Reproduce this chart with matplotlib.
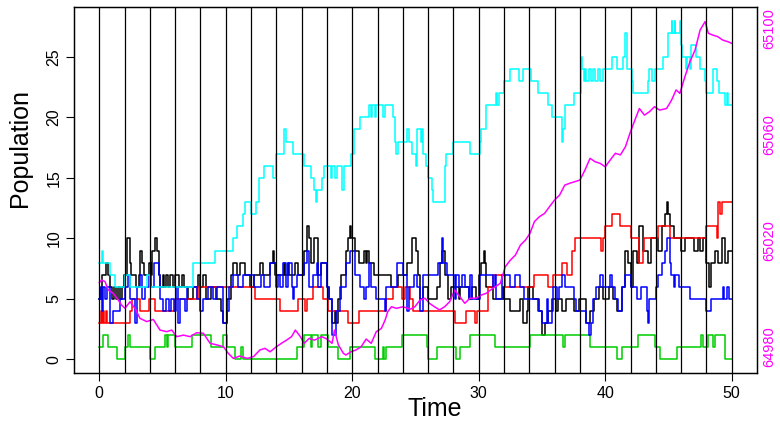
import matplotlib
matplotlib.use('Agg')
import matplotlib.pyplot as plt

plt.rcParams['font.family'] = ['Liberation Sans', 'DejaVu Sans']

# step series: (time, population) change points
black = [(0,5),(0.15,6),(0.2,7),(0.5,8),(0.7,7),(0.85,6),(1.0,5),(1.15,6),(1.3,5),(1.5,6),(1.65,5),
         (1.8,6),(1.95,7),(2.2,10),(2.4,8),(2.5,7),(2.9,6),(3.15,7),(3.2,9),(3.35,8),(3.5,7),(3.9,8),
         (4.1,7),(4.2,9),(4.4,10),(4.6,9),(4.7,7),(4.8,6),(5.0,7),(5.1,6),(5.3,7),(5.45,6),(5.6,7),
         (5.8,6),(6.0,7),(6.3,6),(6.5,7),(6.7,6),(7.0,5),(7.4,6),(7.8,7),(8.0,6),(8.2,7),(8.4,5),
         (8.8,6),(9.2,5),(9.6,4),(9.8,3),(10.1,5),(10.4,7),(10.6,8),(10.9,7),(11.1,8),(11.5,7),
         (11.9,6),(12.2,7),(12.7,8),(12.95,7),(13.5,8),(13.7,9),(13.8,8),(13.9,7),(14.6,8),(14.7,7),
         (14.9,8),(15.0,7),(15.5,8),(15.7,7),(16.2,9),(16.4,11),(16.6,10),(16.75,8),(17.0,10),(17.3,7),
         (17.5,8),(18.0,6),(18.2,5),(18.4,3),(18.6,4),(18.75,3),(18.9,5),(19.1,7),(19.5,9),(19.65,10),
         (19.8,11),(19.9,10),(20.2,9),(20.5,8),(20.9,9),(21.1,8),(21.2,9),(21.3,8),(21.7,7),(23.1,6),
         (23.6,7),(24.3,8),(24.7,10),(25.0,9),(25.2,7),(25.35,5),(25.6,6),(26.0,5),(26.7,6),(26.9,8),
         (27.1,9),(27.3,7),(27.6,5),(27.8,6),(28.1,6),(28.4,5),(28.5,6),(29.2,5),(29.5,6),(29.8,5),
         (30.0,7),(30.2,8),(30.4,9),(30.5,8),(30.6,6),(31.1,5),(31.9,6),(32.0,5),(32.5,4),(33.3,5),
         (33.5,3),(33.8,4),(33.9,6),(34.3,5),(34.8,4),(35.0,2),(35.2,3),(35.5,4),(35.8,5),(36.1,4),
         (36.3,5),(36.6,4),(36.9,5),(37.5,4),(37.9,5),(38.3,5),(38.5,3),(38.8,4),(39.1,5),(39.5,6),
         (39.8,5),(40.3,6),(40.6,5),(40.9,4),(41.3,6),(41.6,9),(41.8,8),(42.0,6),(42.2,9),(42.5,8),
         (42.7,11),(43.0,9),(43.4,8),(43.6,10),(43.9,10),(44.2,9),(44.5,11),(44.7,12),(44.85,13),
         (44.95,12),(45.1,11),(45.4,10),(46.0,9),(46.3,10),(46.7,10),(47.0,9),(47.3,10),(47.5,9),
         (47.7,10),(48.0,8),(48.2,6),(48.4,8),(48.7,9),(48.9,8),(49.2,10),(49.5,8),(49.7,9)]

blue = [(0,5),(0.1,6),(0.2,4),(0.3,6),(0.45,5),(0.6,6),(0.85,3),(1.1,4),(1.6,5),(2.0,6),(2.3,7),
        (2.4,5),(2.8,3),(2.95,6),(3.2,7),(3.35,5),(3.6,6),(3.9,7),(4.1,6),(4.3,8),(4.7,7),(4.8,5),
        (5.0,4),(5.3,5),(5.5,4),(5.7,5),(5.9,4),(6.1,6),(6.25,3),(6.4,5),(6.8,4),(6.9,6),(7.7,5),
        (8.0,4),(8.2,5),(8.6,6),(9.0,5),(9.3,6),(9.8,3),(10.1,4),(10.25,6),(10.6,7),(11.0,6),(11.4,7),
        (12.2,6),(12.8,7),(13.0,6),(13.5,8),(14.0,6),(14.1,7),(14.25,6),(14.5,8),(14.8,6),(14.9,8),
        (15.2,6),(15.3,5),(15.4,6),(15.6,7),(16.2,8),(16.4,9),(16.6,6),(16.9,7),(17.2,8),(17.3,6),
        (17.5,8),(18.0,6),(18.2,5),(18.4,2),(18.75,4),(19.0,6),(19.5,8),(19.8,9),(20.2,7),(20.6,6),
        (20.9,5),(21.1,6),(21.3,8),(21.5,6),(21.9,5),(22.6,4),(22.7,6),(23.5,8),(24.0,7),(24.3,4),
        (24.5,6),(24.9,7),(25.1,6),(25.35,4),(25.6,7),(26.8,8),(27.1,10),(27.2,8),(27.5,7),(28.1,5),
        (28.2,7),(28.4,6),(28.7,7),(28.9,6),(29.2,5),(29.3,7),(29.5,5),(30.1,7),(31.1,6),(31.3,7),
        (31.4,5),(31.8,7),(32.5,6),(32.9,7),(33.3,6),(33.6,5),(34.7,4),(35.0,3),(35.4,5),(35.5,3),
        (35.8,4),(35.9,6),(36.2,5),(36.35,6),(36.55,7),(36.8,6),(37.5,5),(37.7,4),(38.5,3),(38.7,2),
        (38.9,3),(39.0,5),(39.3,6),(39.6,7),(39.85,6),(40.4,7),(40.5,6),(40.8,5),(41.0,4),(41.3,6),
        (41.6,7),(42.0,6),(42.5,5),(42.8,6),(43.3,4),(43.4,3),(43.5,5),(44.0,6),(44.2,7),(44.5,8),
        (44.7,9),(44.9,10),(45.1,8),(45.2,7),(45.4,6),(45.5,7),(45.8,6),(46.7,5),(48.0,4),(48.4,5),
        (49.3,6),(49.4,5),(49.6,6),(49.75,5)]

red = [(0,3),(0.1,4),(0.2,3),(0.3,4),(0.4,3),(0.5,4),(0.6,3),(2.4,4),(2.55,5),(3.2,4),(3.9,5),
       (4.4,4),(6.0,5),(7.7,6),(7.85,5),(8.0,6),(12.3,5),(14.3,4),(15.7,5),(16.25,4),(16.4,5),
       (16.9,6),(17.7,5),(18.1,4),(19.7,3),(20.5,4),(22.7,5),(23.2,6),(23.9,5),(24.2,6),(24.6,5),
       (24.8,4),(28.1,3),(29.0,4),(29.7,3),(29.9,4),(30.75,6),(31.15,7),(32.1,6),(34.4,7),(35.5,6),
       (35.9,7),(36.55,8),(36.95,7),(37.35,9),(37.6,10),(39.7,9),(39.85,10),(40.0,11),(40.5,12),
       (41.2,11),(42.0,10),(42.7,8),(42.95,9),(43.1,10),(44.2,11),(45.1,10),(48.0,11),(48.8,10),
       (48.9,13),(49.1,12),(49.2,13)]

green = [(0,1),(0.3,2),(0.7,1),(1.4,0),(2.0,1),(2.3,2),(2.45,1),(4.0,0),(4.4,1),(5.2,2),(5.35,1),
         (5.4,2),(6.0,1),(7.3,2),(8.8,1),(9.8,2),(10.1,1),(10.7,0),(11.2,1),(11.4,0),(15.6,1),
         (16.2,2),(16.7,1),(16.8,2),(17.3,1),(17.5,2),(18.1,1),(18.9,0),(19.8,1),(21.8,0),(22.4,1),
         (22.5,0),(22.7,1),(23.9,2),(25.9,1),(26.0,0),(26.7,1),(28.2,0),(28.5,1),(29.3,2),(31.3,1),
         (34.05,2),(36.65,1),(36.8,2),(38.8,1),(40.9,0),(41.3,1),(42.6,2),(43.9,1),(44.3,0),(45.7,1),
         (47.6,2),(47.75,1),(48.1,2),(48.5,1),(48.7,2),(49.5,0)]

cyan = [(0,8),(0.2,9),(0.3,8),(0.85,7),(1.25,6),(2.0,7),(2.4,6),(3.8,7),(4.0,6),(7.4,8),(9.15,9),
        (10.6,10),(10.9,11),(11.4,12),(11.55,13),(12.0,12),(12.4,13),(12.6,15),(13.0,16),(13.7,15),
        (14.0,17),(14.6,19),(14.8,18),(15.3,17),(16.2,16),(16.7,15),(17.0,14),(17.1,13),(17.2,14),
        (17.6,15),(17.8,16),(18.3,15),(18.4,16),(18.6,15),(18.8,16),(19.2,14),(19.35,16),(19.9,17),
        (20.1,19),(20.6,20),(21.3,21),(21.5,20),(21.6,21),(21.8,20),(21.9,21),(22.4,20),(22.6,21),
        (23.2,20),(23.4,18),(23.45,17),(23.6,18),(24.3,19),(24.5,18),(24.7,17),(25.0,16),(25.1,19),
        (25.4,18),(25.5,19),(25.6,17),(25.8,16),(26.0,15),(26.3,14),(26.4,13),(27.3,16),(27.4,17),
        (28.0,18),(29.3,17),(30.1,18),(30.2,19),(30.6,21),(31.4,22),(31.45,21),(31.6,22),(32.0,23),
        (32.5,24),(33.2,23),(33.5,24),(34.1,23),(34.7,22),(35.5,21),(35.8,20),(36.55,19),(36.6,18),
        (36.7,19),(36.8,21),(37.5,22),(38.1,25),(38.2,24),(38.3,23),(38.4,24),(38.5,23),(38.7,24),
        (38.9,23),(39.0,24),(39.2,23),(39.4,24),(39.6,23),(39.8,24),(40.5,25),(40.9,24),(41.4,25),
        (41.55,27),(41.7,24),(42.1,23),(42.2,22),(43.4,23),(43.5,24),(43.7,23),(43.9,24),(44.6,25),
        (45.0,27),(45.25,28),(45.3,27),(45.5,28),(45.55,27),(45.9,28),(46.0,26),(46.1,25),(46.4,24),
        (46.5,25),(46.7,24),(46.8,26),(47.2,25),(47.5,24),(47.9,23),(48.0,22),(48.5,24),(48.8,23),
        (49.0,22),(49.5,21),(49.6,22),(49.7,21)]

# magenta series on the right axis
magenta = [(0,65004.3),(0.18,65005.3),(0.45,65004.7),(0.71,65001.5),(1.1,65000.3),(1.5,64997.7),
           (1.77,64995.8),(2.03,64994.6),(2.43,64997.1),(2.82,64994.6),(3.22,64990.8),(3.75,64989.6),
           (4.27,64990.4),(4.8,64986.4),(5.33,64985.8),(5.73,64986.4),(6.12,64983.9),(6.65,64984.5),
           (7.18,64983.9),(7.7,64985.4),(8.23,64985.2),(8.76,64981.4),(9.29,64980.8),(9.82,64980.1),
           (10.2,64977.6),(10.6,64975.7),(11.1,64976.6),(11.7,64975.7),(12.2,64976.4),(12.7,64978.9),
           (13.1,64979.5),(13.5,64978.2),(14.0,64980.1),(14.4,64981.4),(14.8,64982.6),(15.2,64983.9),
           (15.5,64986.4),(15.9,64983.9),(16.2,64981.4),(16.6,64983.3),(17.0,64982.6),(17.6,64983.9),
           (18.0,64983.0),(18.4,64981.4),(18.6,64986.4),(18.9,64980.8),(19.3,64977.6),(19.5,64977.0),
           (19.9,64978.2),(20.3,64978.9),(20.7,64980.1),(21.1,64983.0),(21.5,64981.4),(21.9,64985.8),
           (22.3,64987.0),(22.6,64990.2),(22.8,64993.3),(23.1,64995.2),(23.5,64994.6),(24.0,64995.2),
           (24.6,64994.3),(24.95,64995.2),(25.35,64997.7),(25.75,64998.4),(26.1,64996.5),(26.5,64995.2),
           (26.9,64994.0),(27.3,64995.2),(27.7,64997.1),(28.1,65001.5),(28.5,64999.0),(28.9,64996.5),
           (29.3,64998.4),(29.8,64998.4),(30.2,64999.6),(30.6,65000.3),(31.1,65002.1),(31.7,65004.0),
           (32.1,65010.3),(32.5,65012.8),(32.9,65014.7),(33.3,65018.5),(33.7,65020.4),(34.05,65022.9),
           (34.4,65027.3),(34.8,65029.2),(35.2,65030.4),(35.6,65033.0),(36.0,65035.5),(36.4,65037.4),
           (36.8,65041.1),(37.2,65041.8),(37.6,65042.4),(38.0,65043.0),(38.4,65046.8),(38.8,65051.2),
           (39.2,65049.9),(39.6,65049.3),(40.0,65048.0),(40.4,65050.6),(40.8,65053.1),(41.2,65052.5),
           (41.6,65055.6),(41.95,65060.6),(42.35,65065.7),(42.7,65070.0),(43.1,65067.5),(43.5,65068.8),
           (43.9,65070.7),(44.3,65069.4),(44.85,65070.0),(45.25,65073.2),(45.6,65077.0),(45.9,65075.7),
           (46.3,65082.0),(46.7,65087.7),(47.1,65092.0),(47.5,65099.6),(47.9,65102.8),(48.15,65098.4),
           (48.5,65097.7),(48.9,65097.1),(49.3,65095.8),(49.7,65095.2),(50,65094.6)]

t_end = 50
vlines = list(range(0, 51, 2))
left_ticks = [0, 5, 10, 15, 20, 25]
bottom_ticks = [0, 10, 20, 30, 40, 50]
right_ticks = [64980, 65020, 65060, 65100]

fig = plt.figure(figsize=(7.8, 4.21), dpi=100)
ax = fig.add_axes([74/780, 48/421, 683/780, 366/421])

def step_series(pts, col):
    ts = [p[0] for p in pts] + [t_end]
    vs = [p[1] for p in pts] + [pts[-1][1]]
    ax.step(ts, vs, where='post', color=col, lw=1.1)

step_series(black, 'black')
step_series(red, '#ff0000')
step_series(green, '#00cd00')
step_series(blue, '#0000ff')
step_series(cyan, '#00ffff')

ax.set_xlim(-2, 52)
ax.set_ylim(-1.12, 29.12)
ax.set_xticks(bottom_ticks)
ax.set_yticks(left_ticks)
ax.tick_params(direction='out', length=6, width=0.8, labelsize=11.5, pad=3)
for lab in ax.get_yticklabels():
    lab.set_rotation(90)
    lab.set_va('center')
ax.set_xlabel('Time', fontsize=18, va='top')
ax.xaxis.set_label_coords(0.5286, -0.066)
ax.set_ylabel('Population', fontsize=18, va='center')
ax.yaxis.set_label_coords(-0.079, 0.615)

ax2 = ax.twinx()
ax2.plot([p[0] for p in magenta], [p[1] for p in magenta], color='#ff00ff', lw=1.1)
ax2.set_ylim(64970.2, 65108.3)
ax2.set_yticks(right_ticks)
ax2.tick_params(axis='y', length=0, labelsize=10.5, labelcolor='#ff00ff', pad=4)
for lab in ax2.get_yticklabels():
    lab.set_rotation(90)
    lab.set_va('center')

for v in vlines:
    ax2.axvline(v, color='black', lw=0.9, zorder=5)

for a in (ax, ax2):
    for s in a.spines.values():
        s.set_linewidth(0.9)

fig.savefig('out.png', dpi=100)
